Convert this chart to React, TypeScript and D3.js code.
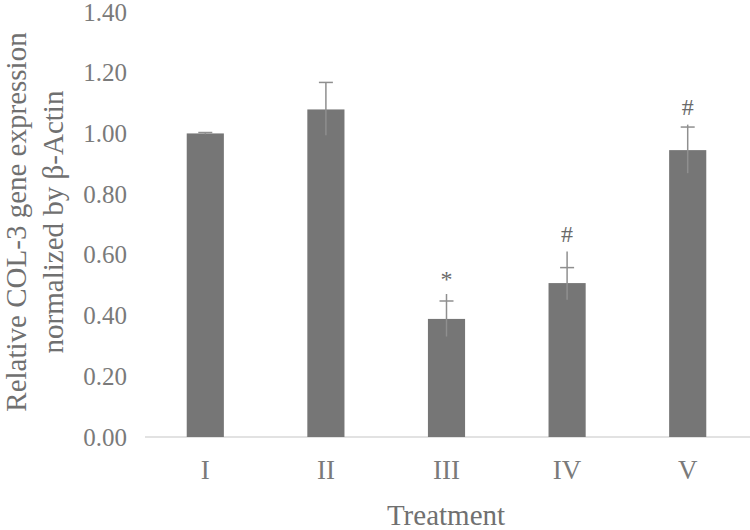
import React from "react";
import * as d3 from "d3";

const categories = ["I", "II", "III", "IV", "V"];
const values = [1.0, 1.079, 0.389, 0.507, 0.945];
const errCap = [0.003, 0.089, 0.059, 0.051, 0.076];
const errLineTop = [0.003, 0.089, 0.082, 0.104, 0.084];
const errLow = [0.003, 0.085, 0.058, 0.055, 0.076];
const marks = ["", "", "*", "#", "#"];
const yTicks = [0, 0.2, 0.4, 0.6, 0.8, 1.0, 1.2, 1.4];

const W = 750, H = 530;
const x0 = 145, x1 = 748, yBase = 437, yTop = 12;
const font = "'Liberation Serif', 'Times New Roman', serif";

export default function App() {
  const x = d3.scaleBand<string>().domain(categories).range([x0, x1]).paddingInner(0.692).paddingOuter(0.346);
  const y = d3.scaleLinear().domain([0, 1.4]).range([yBase, yTop]);
  const bw = x.bandwidth();
  return (
    <svg width={W} height={H} style={{ position: "absolute", left: 0, top: 0, background: "#fff" }}>
      <line x1={x0} x2={750} y1={yBase} y2={yBase} stroke="#d9d9d9" strokeWidth={1.5} />
      {yTicks.map((t) => (
        <text key={t} x={127} y={y(t)} textAnchor="end" dominantBaseline="central" fontFamily={font} fontSize={25} fill="#7a7a7a">
          {t.toFixed(2)}
        </text>
      ))}
      {categories.map((c, i) => {
        const cx = (x(c) as number) + bw / 2;
        return (
          <g key={c}>
            <rect x={x(c)} y={y(values[i])} width={bw} height={yBase - y(values[i])} fill="#767676" />
            <line x1={cx} x2={cx} y1={y(values[i] - errLow[i])} y2={y(values[i] + errLineTop[i])} stroke="#8f8f8f" strokeWidth={1.5} />
            <line x1={cx - 7} x2={cx + 7} y1={y(values[i] + errCap[i])} y2={y(values[i] + errCap[i])} stroke="#8f8f8f" strokeWidth={1.5} />
            {marks[i] && (
              <text x={cx} y={y(values[i] + errLineTop[i]) - (marks[i] === "*" ? 14 : 18)} textAnchor="middle" dominantBaseline={marks[i] === "*" ? "hanging" : "central"} dy={marks[i] === "*" ? -10 : 0} fontFamily={font} fontSize={24} fill="#6a6a6a">
                {marks[i]}
              </text>
            )}
            <text x={cx} y={470} textAnchor="middle" dominantBaseline="central" fontFamily={font} fontSize={27} fill="#7a7a7a">
              {c}
            </text>
          </g>
        );
      })}
      <text x={446} y={515} textAnchor="middle" dominantBaseline="central" fontFamily={font} fontSize={29} fill="#707070">
        Treatment
      </text>
      <g transform="translate(16,222) rotate(-90)">
        <text x={0} y={0} textAnchor="middle" dominantBaseline="central" fontFamily={font} fontSize={29} fill="#707070">
          Relative COL-3 gene expression
        </text>
      </g>
      <g transform="translate(53,222) rotate(-90)">
        <text x={0} y={0} textAnchor="middle" dominantBaseline="central" fontFamily={font} fontSize={29} fill="#707070">
          normalized by β-Actin
        </text>
      </g>
    </svg>
  );
}
